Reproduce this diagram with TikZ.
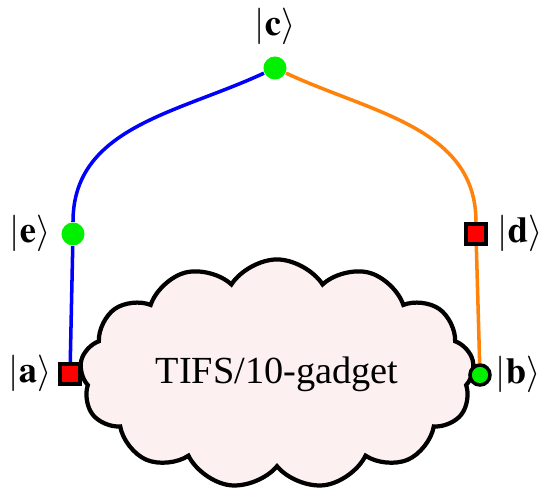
\documentclass[tikz,border=0pt]{standalone}
\usepackage{mathptmx}
\usepackage[no-math]{fontspec}
\setmainfont{Liberation Serif}
\usetikzlibrary{shapes.symbols}
\definecolor{nuage}{RGB}{253,240,240}
\definecolor{vertclair}{RGB}{0,240,0}
\definecolor{orangearete}{RGB}{255,130,10}

\begin{document}
\begin{tikzpicture}[x=0.01cm, y=-0.01cm,
    rond/.style={circle, fill=vertclair, inner sep=0pt, minimum size=0.23cm},
    carre/.style={rectangle, draw, line width=1.2pt, fill=red, inner sep=0pt, minimum size=0.2cm},
    etiq/.style={inner sep=0pt, font=\fontsize{10.4}{12}\selectfont}]

            \useasboundingbox (0,0) rectangle (544,494);

            % Nuage
            \node[cloud, cloud puffs=13, cloud puff arc=115, cloud ignores aspect, draw, line width=1.2pt, fill=nuage,
                  inner sep=0pt, minimum width=3.94cm, minimum height=2.29cm, font=\fontsize{10.9}{12}\selectfont] (G) at (277,374) {TIFS/10-gadget};

            % Noeuds
            \node[rond] (C) at (275,68) {};
            \node[rond] (E) at (73,234) {};
            \node[carre] (D) at (476,234) {};
            \node[carre] (A) at (70,374) {};
            \node[rond, draw, line width=1pt, minimum size=0.2cm] (B) at (480,375) {};

            % Etiquettes
            \node[etiq] (lC) at (275,27) {$|\mathbf{c}\rangle$};
            \node[etiq] (lE) at (30,234) {$|\mathbf{e}\rangle$};
            \node[etiq] (lD) at (520,234) {$|\mathbf{d}\rangle$};
            \node[etiq] (lA) at (30,374) {$|\mathbf{a}\rangle$};
            \node[etiq] (lB) at (518,375) {$|\mathbf{b}\rangle$};

            % Arêtes
            \draw[blue, line width=1pt] (C) to[out=205, in=90] (E);
            \draw[blue, line width=1pt] (E) -- (A);
            \draw[orangearete, line width=1pt] (C) to[out=-25, in=90] (D);
            \draw[orangearete, line width=1pt] (D) -- (B);

            \end{tikzpicture}
\end{document}
